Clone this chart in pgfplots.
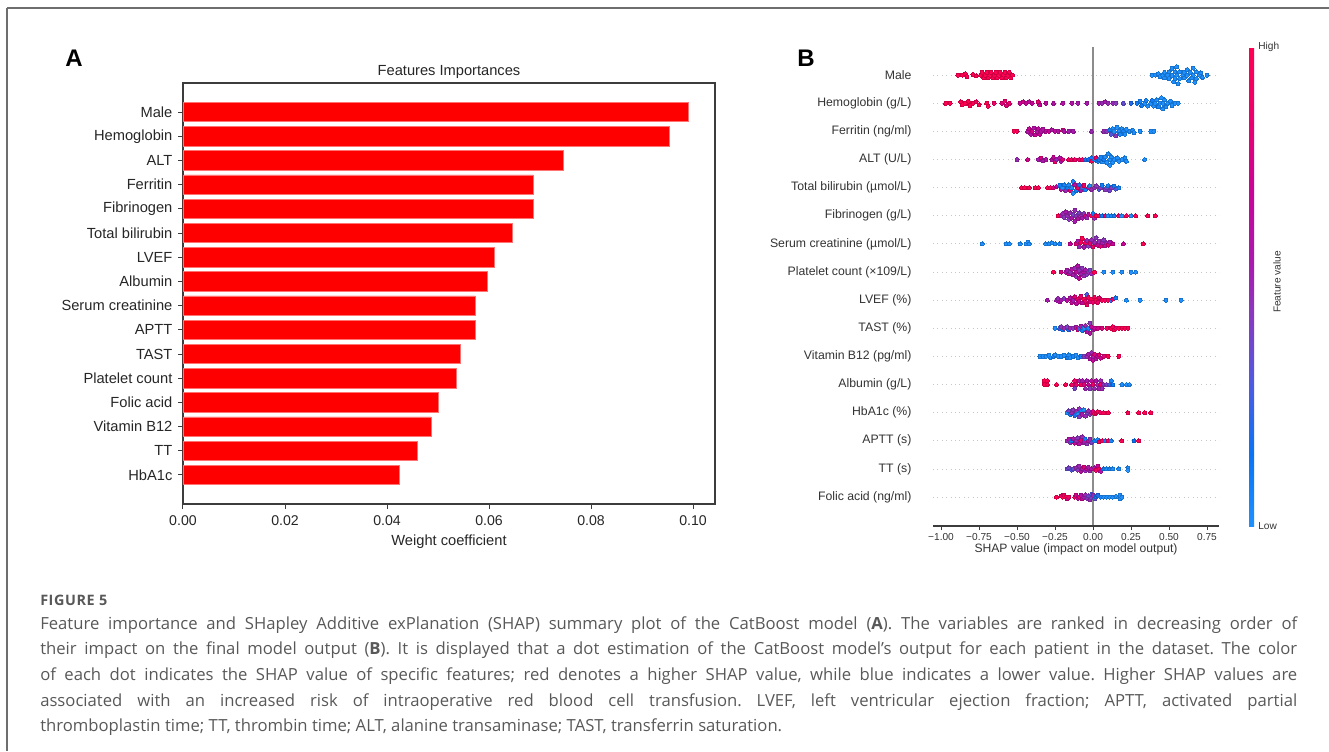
\documentclass[border=0pt]{standalone}
\usepackage{pgfplots}
\pgfplotsset{compat=1.18}
\usepackage{fontspec}
\setmainfont{Liberation Sans}
\newfontfamily\capfont{Open Sans}
\newfontfamily\capheadfont{Open Sans}[LetterSpace=4]
\definecolor{axgray}{RGB}{60,60,60}
\definecolor{labgray}{RGB}{51,51,51}
\definecolor{capgray}{RGB}{88,88,88}
\definecolor{framegray}{RGB}{110,110,110}
\pgfplotsset{colormap={shap}{rgb255(0cm)=(30,144,255) rgb255(15cm)=(10,115,245) rgb255(30cm)=(80,90,225) rgb255(45cm)=(140,55,190) rgb255(55cm)=(170,25,175) rgb255(70cm)=(200,5,150) rgb255(85cm)=(235,0,110) rgb255(100cm)=(255,0,82)}}
\newcommand\fs[1]{\fontsize{#1}{#1}\selectfont}
\begin{document}
\begin{tikzpicture}
\useasboundingbox (0,0) rectangle (996.75pt,-563.25pt);
% ---------------- panel A: feature importances ----------------
\begin{axis}[
  at={(137.25pt,-378pt)}, anchor=south west,
  scale only axis, width=399pt, height=315.75pt,
  xmin=0, xmax=0.1043, ymin=-1.2, ymax=16.2, y dir=reverse,
  xbar, bar width=0.8,
  xtick={0,0.02,0.04,0.06,0.08,0.10},
  xticklabels={0.00,0.02,0.04,0.06,0.08,0.10},
  ytick={0,...,15},
  yticklabels={Male,Hemoglobin,ALT,Ferritin,Fibrinogen,Total bilirubin,LVEF,Albumin,Serum creatinine,APTT,TAST,Platelet count,Folic acid,Vitamin B12,TT,HbA1c},
  tick align=outside, xtick pos=left, ytick pos=left, major tick length=3.75pt,
  tick style={color=axgray, line width=0.75pt},
  axis line style={axgray, line width=0.9pt},
  xticklabel style={font=\fs{10.6}, text=black!85, inner sep=0pt, anchor=north, yshift=-4.5pt},
  yticklabel style={font=\fs{11}, text=black!85, inner sep=0pt, anchor=east, xshift=-4pt},
  title={Features Importances},
  title style={font=\fs{11}, text=black!85, at={(0.5,1)}, anchor=center, yshift=2.25pt},
  xlabel={Weight coefficient},
  xlabel style={font=\fs{11}, text=black!85, at={(0.5,0)}, anchor=center, yshift=-28.5pt},
]
\addplot[fill=red, draw=red!55!white, line width=0.5pt] coordinates {
  (0.0991,0) (0.0953,1) (0.0746,2) (0.0686,3) (0.0686,4) (0.0646,5)
  (0.0610,6) (0.0596,7) (0.0573,8) (0.0573,9) (0.0544,10) (0.0535,11)
  (0.0501,12) (0.0486,13) (0.0459,14) (0.0425,15)};
\end{axis}
% ---------------- panel B: SHAP summary ----------------
\begin{axis}[
  at={(699.75pt,-394.5pt)}, anchor=south west,
  scale only axis, width=214.5pt, height=359.25pt,
  xmin=-1.053, xmax=0.829, ymin=-1.03, ymax=16,
  axis line style={draw=none},
  xtick={-1,-0.75,-0.5,-0.25,0,0.25,0.5,0.75},
  xticklabels={−1.00,−0.75,−0.50,−0.25,0.00,0.25,0.50,0.75},
  xtick pos=left, tick align=outside, major tick length=3pt,
  xtick style={color=axgray, line width=0.6pt},
  ytick={0,...,15}, ytick style={draw=none},
  yticklabels={Folic acid (ng/ml),TT (s),APTT (s),HbA1c (\%),Albumin (g/L),Vitamin B12 (pg/ml),TAST (\%),LVEF (\%),Platelet count (×109/L),Serum creatinine (µmol/L),Fibrinogen (g/L),Total bilirubin (µmol/L),ALT (U/L),Ferritin (ng/ml),Hemoglobin (g/L),Male},
  xticklabel style={font=\fs{7.6}, text=labgray, inner sep=0pt, anchor=north, yshift=-2.4pt},
  yticklabel style={font=\fs{9.2}, text=labgray, inner sep=0pt, anchor=east, xshift=-13pt},
  xlabel={SHAP value (impact on model output)},
  xlabel style={font=\fs{9.1}, text=labgray, at={(0.5,0)}, anchor=center, yshift=-17.5pt},
  ymajorgrids, grid style={color=black!22, line width=0.6pt, dash pattern=on 0.7pt off 2.6pt},
  colormap name=shap, point meta min=0, point meta max=1,
  colorbar,
  colorbar style={at={(parent axis.north east)}, anchor=north west, xshift=14pt,
    scale only axis, width=3.75pt, height=359.25pt,
    ytick={0,1}, yticklabels={Low,High}, major tick length=0pt,
    axis line style={draw=none},
    yticklabel style={font=\fs{7.6}, text=labgray, inner sep=0pt, anchor=west, xshift=3pt}},
  extra description/.code={\draw[axgray, line width=0.8pt] (rel axis cs:0,0) -- (rel axis cs:1,0);},
]
\addplot[color=black!45, line width=0.8pt] coordinates {(0,-1.03) (0,16)};
\addplot[scatter, only marks, scatter src=explicit, mark=*, mark size=1.5pt,
  mark options={line width=0pt}]
  table[x=x, y=y, meta=c, row sep=\\] {
x y c \\
-0.89 15 1 \\ -0.86 15 1 \\ -0.84 15.05 1 \\ -0.83 14.95 1 \\ -0.79 15.02 1 \\ -0.77 14.98 1 \\
-0.74 15 1 \\ -0.73 15.1 1 \\ -0.72 14.9 1 \\ -0.71 15 1 \\ -0.70 15.1 1 \\ -0.69 14.9 1 \\
-0.68 15 1 \\ -0.67 15.1 1 \\ -0.66 14.9 1 \\ -0.65 15 1 \\ -0.64 15.1 1 \\ -0.63 14.9 1 \\
-0.62 15 1 \\ -0.61 15.1 1 \\ -0.60 14.9 1 \\ -0.59 15 1 \\ -0.58 15.1 1 \\ -0.57 14.9 1 \\
-0.56 15 1 \\ -0.55 15.1 1 \\ -0.54 14.9 1 \\ -0.53 15 1 \\
0.39 15 0 \\ 0.41 15 0 \\ 0.43 15.05 0 \\ 0.44 14.95 0 \\ 0.46 15 0 \\ 0.47 15.1 0 \\ 0.47 14.9 0 \\
0.49 15 0 \\ 0.50 15.12 0 \\ 0.50 14.88 0 \\ 0.52 15 0 \\ 0.52 15.24 0 \\ 0.53 14.76 0 \\ 0.54 15.12 0 \\
0.54 14.88 0 \\ 0.55 15.3 0 \\ 0.55 15 0 \\ 0.56 14.7 0 \\ 0.57 15.12 0 \\ 0.57 14.88 0 \\ 0.59 15 0 \\
0.60 15.1 0 \\ 0.60 14.9 0 \\ 0.62 15.2 0 \\ 0.62 15 0 \\ 0.63 14.8 0 \\ 0.64 15.1 0 \\ 0.65 14.9 0 \\
0.66 15.25 0 \\ 0.66 15 0 \\ 0.67 14.75 0 \\ 0.68 15.12 0 \\ 0.68 14.88 0 \\ 0.70 15 0 \\ 0.71 15.08 0 \\
0.72 14.92 0 \\ 0.75 15 0 \\
-0.97 14 1 \\ -0.94 14 1 \\ -0.87 14.05 1 \\ -0.86 13.95 1 \\ -0.84 14 1 \\ -0.82 14.08 1 \\ -0.81 13.92 1 \\
-0.79 14 1 \\ -0.77 14.05 0.95 \\ -0.75 13.95 1 \\ -0.70 14 1 \\ -0.69 13.9 1 \\ -0.65 14 0.9 \\ -0.60 14 0.8 \\
-0.58 14.08 0.85 \\ -0.57 13.92 0.8 \\ -0.55 14 0.85 \\ -0.48 14 0.7 \\ -0.46 14.05 0.75 \\ -0.44 14 0.7 \\
-0.42 14.06 0.65 \\ -0.40 14 0.7 \\ -0.36 14.05 0.85 \\ -0.35 13.95 0.7 \\ -0.31 14 0.65 \\ -0.26 14 0.6 \\
-0.20 14 0.6 \\ -0.14 14 0.6 \\ -0.10 14 0.55 \\ -0.04 14 0.55 \\ 0.04 14 0.55 \\ 0.06 14 0.5 \\
0.08 14.05 0.55 \\ 0.10 14 0.5 \\ 0.13 14 0.5 \\ 0.15 14 0.45 \\ 0.20 14 0.35 \\ 0.25 14 0.2 \\
0.29 14 0.1 \\ 0.31 14.08 0.05 \\ 0.32 13.92 0.1 \\ 0.34 14 0 \\ 0.35 14.1 0.05 \\ 0.36 13.9 0 \\ 0.38 14 0 \\
0.39 14.1 0.1 \\ 0.40 13.9 0 \\ 0.41 14 0 \\ 0.42 14.12 0 \\ 0.43 13.88 0.05 \\ 0.44 14 0 \\ 0.45 14.2 0 \\
0.46 13.8 0 \\ 0.46 14 0 \\ 0.47 14.12 0 \\ 0.48 13.88 0 \\ 0.49 14 0 \\ 0.51 14.08 0 \\ 0.52 13.92 0 \\
0.54 14 0 \\ 0.56 14 0 \\
-0.52 13 1 \\ -0.50 13 0.95 \\ -0.43 13 0.6 \\ -0.42 13.1 0.7 \\ -0.41 12.9 0.6 \\ -0.40 13 0.75 \\
-0.39 13.12 0.6 \\ -0.38 12.88 0.7 \\ -0.37 13 0.6 \\ -0.36 13.1 0.65 \\ -0.35 12.9 0.7 \\ -0.34 13 0.6 \\
-0.33 13.08 0.6 \\ -0.31 13 0.65 \\ -0.29 13 0.7 \\ -0.27 13.05 0.6 \\ -0.25 13 0.65 \\ -0.23 13 0.6 \\
-0.20 13.04 0.8 \\ -0.19 13 0.6 \\ -0.16 13 0.55 \\ -0.13 13 0.55 \\ -0.01 13 0.5 \\ 0.07 13 0.5 \\
0.09 13 0.45 \\ 0.11 13.05 0.1 \\ 0.12 12.9 0.3 \\ 0.13 13.1 0 \\ 0.14 13 0 \\ 0.15 12.85 0.45 \\
0.16 13.15 0 \\ 0.17 13 0 \\ 0.18 12.9 0.05 \\ 0.19 13.1 0 \\ 0.20 13 0.05 \\ 0.21 12.9 0 \\
0.22 13.08 0 \\ 0.24 13 0 \\ 0.26 13.04 0 \\ 0.27 12.96 0 \\ 0.31 13 0 \\ 0.38 13 0 \\ 0.40 13 0 \\
-0.50 12 0.5 \\ -0.43 12 0.75 \\ -0.36 12 0.55 \\ -0.34 12.05 0.8 \\ -0.33 11.95 0.55 \\ -0.31 12 0.6 \\
-0.27 12 0.6 \\ -0.26 12.08 0.7 \\ -0.25 11.92 0.9 \\ -0.24 12 0.5 \\ -0.22 12.06 0.6 \\ -0.21 11.94 0.55 \\
-0.20 12 0.8 \\ -0.16 12 0.9 \\ -0.14 12 0.95 \\ -0.12 12 0.9 \\ -0.09 12 0.85 \\ -0.07 12 0.9 \\
-0.05 12 0.2 \\ -0.03 12 0.15 \\ -0.01 12.06 0.1 \\ -0.01 11.94 1 \\ 0.01 12 0.05 \\ 0.02 12.06 0.9 \\
0.03 11.94 0.1 \\ 0.04 12 0.1 \\ 0.05 12.08 0.05 \\ 0.06 11.92 0 \\ 0.07 12 0.1 \\ 0.08 12.1 0 \\
0.09 11.9 0 \\ 0.10 12.2 0 \\ 0.11 12 0 \\ 0.11 11.8 0 \\ 0.12 12.1 0 \\ 0.13 11.9 0 \\ 0.14 12 0 \\
0.16 12.06 0 \\ 0.17 11.94 0 \\ 0.19 12 0 \\ 0.21 12.06 0 \\ 0.22 11.94 0 \\ 0.34 12 0 \\
-0.47 11 1 \\ -0.45 11 1 \\ -0.42 11 1 \\ -0.38 11 1 \\ -0.36 11 1 \\ -0.30 11 1 \\ -0.28 11 0.95 \\
-0.26 11 0.8 \\ -0.24 11.04 0.7 \\ -0.22 11.08 0.1 \\ -0.21 10.94 0.6 \\ -0.20 11 0 \\ -0.19 11.1 0.05 \\
-0.18 10.9 0.5 \\ -0.17 11 0.1 \\ -0.16 11.1 0 \\ -0.15 10.9 0.8 \\ -0.14 11 0 \\ -0.13 11.22 0.05 \\
-0.13 10.8 0 \\ -0.12 11.1 0.6 \\ -0.11 10.9 0.1 \\ -0.10 11 0.9 \\ -0.09 11.1 0.2 \\ -0.08 10.9 0.55 \\
-0.07 11 0.3 \\ -0.06 11.08 0.9 \\ -0.05 10.92 0.1 \\ -0.03 11 0.6 \\ -0.02 11.06 0 \\ -0.01 10.94 0.5 \\
0.01 11 0.5 \\ 0.02 11.06 0.45 \\ 0.04 10.94 0.3 \\ 0.05 11 0.45 \\ 0.06 11.08 0.1 \\ 0.08 10.92 0.45 \\
0.09 11 0.4 \\ 0.10 11.07 0.05 \\ 0.11 10.9 0.4 \\ 0.12 11 0.45 \\ 0.14 11.05 0.1 \\ 0.15 10.95 0.3 \\
0.17 11 0.05 \\
-0.23 10 1 \\ -0.21 10 0.6 \\ -0.20 10.08 0.5 \\ -0.19 9.94 0.45 \\ -0.18 10.14 0.55 \\ -0.17 10 0.5 \\
-0.16 9.88 0.45 \\ -0.15 10.1 0.5 \\ -0.14 9.92 0.6 \\ -0.13 10.04 0.4 \\ -0.12 9.8 0.55 \\ -0.12 10.2 0.5 \\
-0.11 10 0.45 \\ -0.10 9.9 0.6 \\ -0.09 10.1 0.4 \\ -0.08 10 0.5 \\ -0.07 9.92 0.55 \\ -0.06 10.08 0.45 \\
-0.05 10 0.8 \\ -0.04 9.94 0.5 \\ -0.03 10.05 0.6 \\ -0.01 10 1 \\ 0.00 10.08 0.1 \\ 0.01 9.92 0.5 \\
0.02 10 1 \\ 0.04 10 0.95 \\ 0.06 10 0.1 \\ 0.08 10 0.9 \\ 0.10 10 0 \\ 0.12 10 0.05 \\ 0.14 10 0.1 \\
0.17 10 0.9 \\ 0.19 10 0 \\ 0.22 10 0.95 \\ 0.25 10 0 \\ 0.28 10 1 \\ 0.36 10 1 \\ 0.41 10 1 \\
-0.73 9 0 \\ -0.57 9 0 \\ -0.55 9 0 \\ -0.48 9 0 \\ -0.44 9 0 \\ -0.43 9.06 0 \\ -0.42 9 0 \\
-0.31 9 0 \\ -0.29 9 0 \\ -0.27 9.04 0 \\ -0.25 9 0 \\ -0.22 9 0.05 \\ -0.15 9 0.7 \\ -0.11 9 0.8 \\
-0.10 9.1 0.55 \\ -0.09 8.9 0.5 \\ -0.08 9.06 0.95 \\ -0.07 9.2 1 \\ -0.06 8.88 0.55 \\ -0.05 9.04 0.9 \\
-0.04 9.12 0.5 \\ -0.03 8.92 0.45 \\ -0.02 9.02 0.85 \\ -0.01 9.14 0.5 \\ 0.00 8.9 0.9 \\ 0.01 9.06 0.5 \\
0.02 9.22 0.45 \\ 0.03 8.96 0.7 \\ 0.04 9.1 0.5 \\ 0.05 8.92 0.8 \\ 0.06 9.04 0.55 \\ 0.07 9.14 0.45 \\
0.08 8.94 0.6 \\ 0.09 9.04 0.5 \\ 0.10 8.96 0.8 \\ 0.11 9.06 0.55 \\ 0.13 9 0.7 \\ 0.20 9 0.7 \\ 0.33 9 1 \\
-0.26 8 1 \\ -0.21 8 0.75 \\ -0.18 8 0.6 \\ -0.17 8.06 0.55 \\ -0.16 7.94 0.7 \\ -0.15 8 0.5 \\
-0.14 8.1 0.6 \\ -0.13 7.9 0.55 \\ -0.12 8.14 0.5 \\ -0.11 8 0.65 \\ -0.11 7.84 0.5 \\ -0.10 8.22 0.6 \\
-0.09 8.06 0.5 \\ -0.09 7.78 0.7 \\ -0.08 7.94 0.55 \\ -0.07 8.14 0.45 \\ -0.06 8 0.6 \\ -0.06 7.86 0.5 \\
-0.05 8.08 0.55 \\ -0.04 7.92 0.45 \\ -0.03 8 0.5 \\ -0.02 8.06 0.4 \\ -0.01 7.94 0.5 \\ 0.01 8 1 \\
0.07 8 0 \\ 0.13 8 0 \\ 0.19 8 0 \\ 0.25 8 0 \\ 0.28 8 0 \\
-0.30 7 0.55 \\ -0.24 7 0.55 \\ -0.23 7.06 0.5 \\ -0.22 6.94 0.6 \\ -0.21 7 0.55 \\ -0.19 7.06 0.45 \\
-0.17 7 0.65 \\ -0.15 7.08 0.6 \\ -0.14 6.92 0.7 \\ -0.13 7 0.55 \\ -0.12 7.12 0.8 \\ -0.11 6.88 0.65 \\
-0.10 7.04 0.9 \\ -0.09 6.96 0.75 \\ -0.08 7.14 0.85 \\ -0.07 6.9 0.7 \\ -0.06 7.04 1 \\ -0.05 6.96 0.85 \\
-0.04 7.2 0.3 \\ -0.04 6.84 0.9 \\ -0.03 7.1 0.95 \\ -0.02 6.94 0.8 \\ -0.01 7.04 1 \\ 0.00 6.92 0.9 \\
0.01 7.1 0.95 \\ 0.02 7 1 \\ 0.03 6.92 0.9 \\ 0.04 7.08 0.85 \\ 0.06 7 0.95 \\ 0.08 7 0.9 \\
0.10 7 0.95 \\ 0.12 7 0.2 \\ 0.13 7.04 0.9 \\ 0.15 7.08 0.1 \\ 0.22 7 0 \\ 0.31 7 0 \\ 0.48 7 0 \\ 0.58 7 0 \\
-0.25 6 0 \\ -0.22 6 0.3 \\ -0.21 6.06 0.45 \\ -0.20 5.94 0.1 \\ -0.19 6 0.5 \\ -0.17 6.06 0.4 \\
-0.16 5.94 0.2 \\ -0.15 6 0.5 \\ -0.13 6 0.45 \\ -0.11 6.04 0.55 \\ -0.10 5.96 0.8 \\ -0.09 6 0.3 \\
-0.08 6.08 0.55 \\ -0.07 5.92 0.1 \\ -0.06 6 0 \\ -0.05 6.1 0.5 \\ -0.04 5.88 0.6 \\ -0.03 6 0.05 \\
-0.02 6.18 0.45 \\ -0.02 5.82 0.6 \\ -0.01 6.06 0.7 \\ 0.00 5.94 0.55 \\ 0.01 6 0.65 \\ 0.03 6 0.75 \\
0.06 6 0.8 \\ 0.09 6 0.9 \\ 0.12 6 1 \\ 0.13 6.06 0.95 \\ 0.14 5.94 1 \\ 0.15 6 0.9 \\ 0.17 6 1 \\
0.19 6 1 \\ 0.21 6 0.95 \\ 0.23 6 1 \\
-0.35 5 0 \\ -0.33 5 0 \\ -0.31 5 0 \\ -0.29 5.04 0 \\ -0.28 4.96 0 \\ -0.26 5 0.05 \\ -0.25 5.05 0 \\
-0.23 5 0 \\ -0.21 5 0 \\ -0.19 5.04 0 \\ -0.17 4.96 0.1 \\ -0.16 5.05 0 \\ -0.15 4.96 0 \\ -0.13 5 0.05 \\
-0.11 5.04 0 \\ -0.10 4.96 0 \\ -0.08 5 0.1 \\ -0.06 5 0.4 \\ -0.04 5 0.5 \\ -0.03 5.08 0.55 \\
-0.02 4.92 0.6 \\ -0.01 5.14 0.5 \\ 0.00 4.86 0.7 \\ 0.00 5 0.55 \\ 0.01 5.08 0.8 \\ 0.02 4.92 0.6 \\
0.03 5 0.65 \\ 0.04 5.06 0.85 \\ 0.05 4.94 0.7 \\ 0.07 5 0.8 \\ 0.10 5 1 \\ 0.17 5 1 \\
-0.32 4.14 1 \\ -0.30 4.14 1 \\ -0.32 4 1 \\ -0.30 4 1 \\ -0.24 4 1 \\ -0.18 4 1 \\ -0.14 4 0.9 \\
-0.12 4.14 0.9 \\ -0.12 3.86 0.4 \\ -0.11 4 0.85 \\ -0.09 4.14 0.6 \\ -0.08 4 0.95 \\ -0.07 4.14 0.55 \\
-0.06 4 0.8 \\ -0.05 3.86 0.5 \\ -0.04 4.14 0.55 \\ -0.03 4 0.7 \\ -0.02 3.86 0.45 \\ -0.01 4.14 0.65 \\
0.00 4 0.9 \\ 0.01 3.86 0.5 \\ 0.02 4.14 0.6 \\ 0.03 4 0.5 \\ 0.04 3.86 0.55 \\ 0.05 4.14 0.5 \\
0.05 4 0.85 \\ 0.06 3.86 0.5 \\ 0.07 4 0.5 \\ 0.09 4 0.4 \\ 0.11 4 0.3 \\ 0.12 4.14 0.05 \\ 0.13 4 0.1 \\
0.19 4 0 \\ 0.22 4 0 \\ 0.24 4 0 \\
-0.17 3 0 \\ -0.16 3.06 0.4 \\ -0.15 2.94 0.1 \\ -0.14 3 0.5 \\ -0.13 3.1 0.45 \\ -0.12 2.9 0.2 \\
-0.11 3.04 0.5 \\ -0.10 2.96 0 \\ -0.09 3.14 0.5 \\ -0.09 2.86 0.45 \\ -0.08 3.04 0.05 \\ -0.07 2.94 0.55 \\
-0.06 3.1 0 \\ -0.05 2.88 0.5 \\ -0.04 3 0.4 \\ -0.03 3.06 0.5 \\ -0.02 2.94 0.45 \\ -0.01 3 0.6 \\
0.00 3.04 0.8 \\ 0.01 2.96 0.9 \\ 0.02 3 1 \\ 0.03 3.04 0.95 \\ 0.05 3 0.9 \\ 0.07 3 0.95 \\
0.10 3 1 \\ 0.23 3 1 \\ 0.30 3 1 \\ 0.34 3 1 \\ 0.38 3 1 \\
-0.17 2 0.5 \\ -0.16 2.06 0.6 \\ -0.15 1.94 0.45 \\ -0.14 2 0.1 \\ -0.13 2.08 0.55 \\ -0.12 1.92 0.7 \\
-0.11 2 0.5 \\ -0.10 2.1 0.45 \\ -0.09 1.9 0.6 \\ -0.08 2.02 0.8 \\ -0.07 2.14 0.5 \\ -0.06 1.94 0.55 \\
-0.05 2.06 0.1 \\ -0.04 1.9 0.45 \\ -0.03 2 0.6 \\ -0.02 2.06 0.5 \\ -0.01 1.94 0.4 \\ 0.01 2 0.1 \\
0.03 2.04 0.05 \\ 0.04 1.96 1 \\ 0.06 2 0.95 \\ 0.08 2 0.1 \\ 0.10 2 0.9 \\ 0.12 2 0.05 \\
0.19 2 1 \\ 0.27 2 0.15 \\ 0.30 2 1 \\
-0.17 1 0.35 \\ -0.16 1.04 0.4 \\ -0.14 0.96 0.3 \\ -0.13 1 0.35 \\ -0.11 1.04 0.5 \\ -0.10 0.96 0.45 \\
-0.09 1.1 0.5 \\ -0.08 0.92 0.6 \\ -0.07 1 0.55 \\ -0.06 1.06 0.8 \\ -0.05 0.94 0.5 \\ -0.04 1 0.7 \\
-0.03 1.06 0.55 \\ -0.02 0.94 0.5 \\ -0.01 1 0.65 \\ 0.01 1.04 0.55 \\ 0.02 0.96 0.9 \\ 0.03 1.1 0.7 \\
0.04 1 0.95 \\ 0.05 0.92 0.6 \\ 0.07 1 0.1 \\ 0.09 1 0 \\ 0.11 1 0.05 \\ 0.13 1 0 \\ 0.17 1 0 \\
0.23 1.04 0 \\ 0.23 0.96 0 \\
-0.24 0 1 \\ -0.21 0.04 0.85 \\ -0.20 0 1 \\ -0.19 0.06 0.9 \\ -0.18 0 1 \\ -0.17 -0.06 0.75 \\
-0.16 0 0.9 \\ -0.12 0 0.95 \\ -0.11 0.06 0.75 \\ -0.10 -0.04 0.65 \\ -0.09 0 0.9 \\ -0.08 0.06 0.6 \\
-0.07 -0.06 0.7 \\ -0.06 0 0.55 \\ -0.05 0.08 0.5 \\ -0.04 -0.04 0.45 \\ -0.03 0.04 0.4 \\ -0.02 -0.1 0.5 \\
-0.01 0.1 0.3 \\ -0.01 -0.02 0.4 \\ 0.00 0.06 0.5 \\ 0.01 -0.06 0.35 \\ 0.02 0.02 0.1 \\ 0.03 0.06 0.2 \\
0.05 0 0.05 \\ 0.07 0 0 \\ 0.09 0 0 \\ 0.11 0 0 \\ 0.13 0 0 \\ 0.15 0.02 0 \\ 0.17 0 0 \\
0.18 0.06 0 \\ 0.18 -0.06 0 \\ 0.19 0 0 \\
};
\end{axis}
% ---------------- frame, panel letters and caption ----------------
\begin{scope}[x=0.75pt, y=-0.75pt]
\draw[framegray, line width=1.1pt] (7,8) -- (1329,8);
\draw[framegray, line width=1.1pt] (7,8) -- (7,751);
\node[font=\fs{18}\bfseries] at (74,58) {A};
\node[font=\fs{18}\bfseries] at (806,58) {B};
\node[rotate=90, font=\fs{7.6}, text=labgray] at (1277,282) {Feature value};
\node[anchor=west, inner sep=0pt, font=\capheadfont\bfseries\fs{10.8}, text=capgray] at (40,600) {FIGURE 5};
\node[anchor=north west, inner sep=0pt, text width=942.75pt, align=justify,
      font=\capfont\fontsize{12.5}{19.3}\selectfont, text=capgray] at (40,616) {\frenchspacing
Feature importance and SHapley Additive exPlanation (SHAP) summary plot of the CatBoost model (\textbf{A}). The variables are ranked in decreasing order of\linebreak
their impact on the final model output (\textbf{B}). It is displayed that a dot estimation of the CatBoost model’s output for each patient in the dataset. The color\linebreak
of each dot indicates the SHAP value of specific features; red denotes a higher SHAP value, while blue indicates a lower value. Higher SHAP values are\linebreak
associated with an increased risk of intraoperative red blood cell transfusion. LVEF, left ventricular ejection fraction; APTT, activated partial\linebreak
thromboplastin time; TT, thrombin time; ALT, alanine transaminase; TAST, transferrin saturation.};
\end{scope}
\end{tikzpicture}
\end{document}
